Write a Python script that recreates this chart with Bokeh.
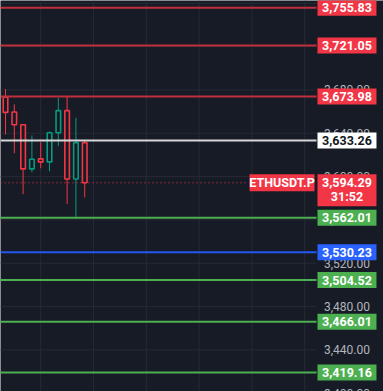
from bokeh.plotting import figure
from bokeh.models import Range1d
from bokeh.core.properties import value
from bokeh.embed import file_html
from bokeh.resources import INLINE

# ---- data ----
opens  = [3673.3, 3659.6, 3647.9, 3607.1, 3616.4, 3613.6, 3640.5, 3660.9, 3597.8, 3631.2]
closes = [3659.3, 3647.9, 3607.1, 3616.0, 3613.6, 3640.5, 3660.9, 3597.8, 3631.2, 3594.29]
highs  = [3680.7, 3666.8, 3647.9, 3638.0, 3631.8, 3641.7, 3672.6, 3674.2, 3654.4, 3634.0]
lows   = [3638.9, 3621.6, 3583.9, 3604.0, 3607.7, 3604.9, 3628.1, 3574.7, 3561.6, 3580.8]

levels = [3755.83, 3721.05, 3673.98, 3633.26, 3562.01, 3530.23, 3504.52, 3466.01, 3419.16]
level_kind = ["res", "res", "res", "pivot", "sup", "blue", "sup", "sup", "sup"]
current_price = 3594.29
countdown = "31:52"
symbol = "ETHUSDT.P"
grid_prices = [3400, 3440, 3480, 3520, 3560, 3600, 3640, 3680, 3720, 3760]
tick_prices = [3400, 3440, 3480, 3520, 3560, 3600, 3640, 3680, 3720]
vgrid_idx = [4, 10, 16, 22, 28, 34]

# ---- style ----
BG = "#171b26"
GRID = "#262a35"
UP = "#089981"
DOWN = "#f23645"
line_col = {"res": "#c0303c", "pivot": "#d6d6d6", "sup": "#4caf50", "blue": "#2456f0"}
box_col = {"res": "#f23645", "pivot": "#ffffff", "sup": "#4caf50", "blue": "#2962ff"}
txt_col = {"res": "#ffffff", "pivot": "#131722", "sup": "#ffffff", "blue": "#ffffff"}

XMIN, XMAX = -0.57, 42.95
YMIN, YMAX = 3401.6, 3762.6
PLOT_RIGHT = 35.34
LABEL_X = 38.8

p = figure(width=383, height=391, x_range=Range1d(XMIN, XMAX), y_range=Range1d(YMIN, YMAX),
           output_backend="svg", toolbar_location=None, min_border=0,
           x_axis_location=None, y_axis_location=None)
p.xgrid.visible = False
p.ygrid.visible = False
p.outline_line_color = None
p.background_fill_color = BG
p.border_fill_color = BG

# grid
p.segment(x0=[XMIN] * len(grid_prices), x1=[PLOT_RIGHT] * len(grid_prices), y0=grid_prices, y1=grid_prices,
          line_color=GRID, line_width=1)
p.segment(x0=vgrid_idx, x1=vgrid_idx, y0=[YMIN] * len(vgrid_idx), y1=[YMAX] * len(vgrid_idx),
          line_color=GRID, line_width=1)

# axis tick labels
p.text(x=[LABEL_X] * len(tick_prices), y=tick_prices, text=[f"{t:,.2f}" for t in tick_prices],
       text_align="center", text_baseline="middle", text_color="#b2b5be",
       text_font=value("Roboto"), text_font_size="12px")

# candles
idx = list(range(len(opens)))
cols = [UP if c >= o else DOWN for o, c in zip(opens, closes)]
p.segment(x0=idx, x1=idx, y0=lows, y1=highs, line_color=cols, line_width=1)
tops = [max(o, c) for o, c in zip(opens, closes)]
bots = [min(o, c) for o, c in zip(opens, closes)]
p.vbar(x=idx, top=tops, bottom=bots, width=0.52, fill_color=BG, line_color=cols, line_width=1.6)

# level lines
p.segment(x0=[XMIN] * len(levels), x1=[PLOT_RIGHT] * len(levels), y0=levels, y1=levels,
          line_color=[line_col[k] for k in level_kind], line_width=2)

# current price dotted line
p.segment(x0=[XMIN], x1=[27.6], y0=[current_price], y1=[current_price],
          line_color=DOWN, line_width=1, line_dash="1 3")

# level labels
p.rect(x=[LABEL_X] * len(levels), y=levels, width=59, height=16, width_units="screen", height_units="screen",
       fill_color=[box_col[k] for k in level_kind], line_color=None)
p.text(x=[LABEL_X] * len(levels), y=levels, text=[f"{v:,.2f}" for v in levels],
       text_align="center", text_baseline="middle", text_color=[txt_col[k] for k in level_kind],
       text_font=value("Roboto"), text_font_size="12.5px", text_font_style="bold")

# current price label
px_per_unit = 391 / (YMAX - YMIN)
p.rect(x=[LABEL_X], y=[current_price - 7.5 / px_per_unit], width=59, height=32,
       width_units="screen", height_units="screen", fill_color=DOWN, line_color=None)
p.text(x=[LABEL_X], y=[current_price], text=[f"{current_price:,.2f}"], text_align="center",
       text_baseline="middle", text_color="#ffffff", text_font=value("Roboto"),
       text_font_size="12.5px", text_font_style="bold")
p.text(x=[LABEL_X], y=[current_price], y_offset=14, text=[countdown], text_align="center",
       text_baseline="middle", text_color="#ffffff", text_font=value("Roboto"),
       text_font_size="12.5px", text_font_style="bold")

# symbol label
p.rect(x=[31.42], y=[current_price], width=65, height=17, width_units="screen", height_units="screen",
       fill_color=DOWN, line_color=None)
p.text(x=[31.42], y=[current_price], text=[symbol], text_align="center", text_baseline="middle",
       text_color="#ffffff", text_font=value("Roboto"), text_font_size="12.5px", text_font_style="bold")

open("out.html", "w").write(file_html(p, INLINE))
